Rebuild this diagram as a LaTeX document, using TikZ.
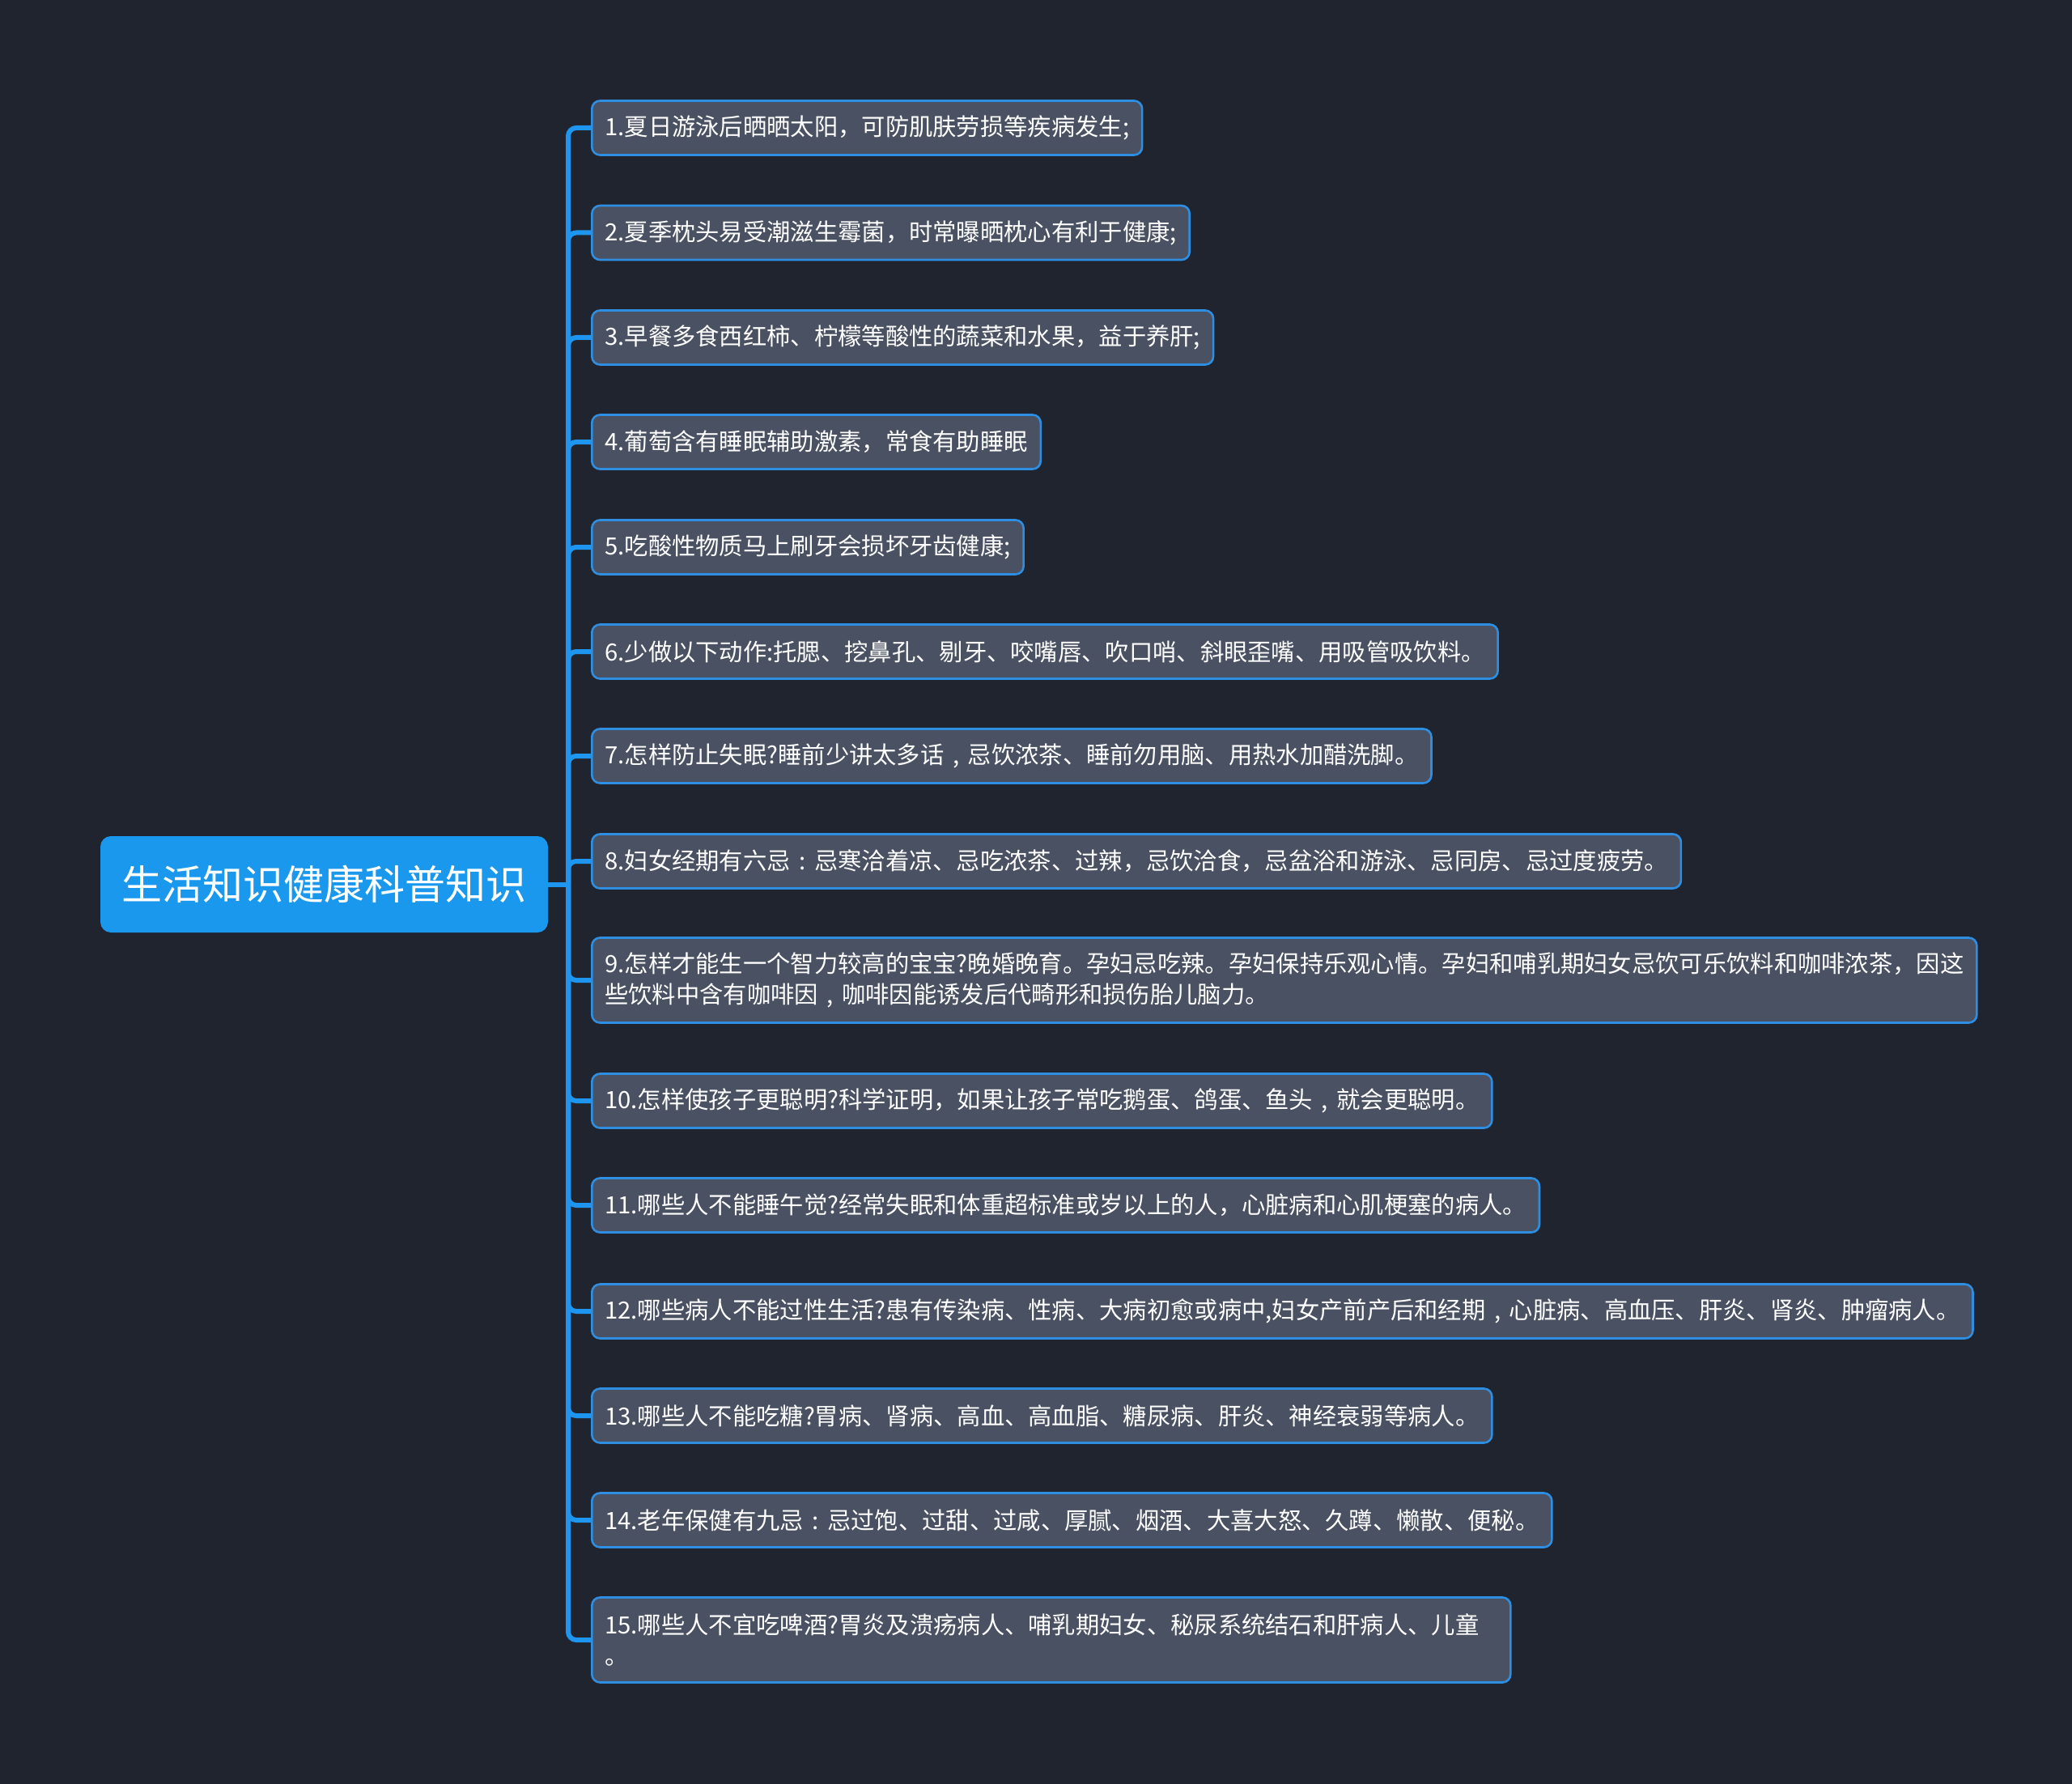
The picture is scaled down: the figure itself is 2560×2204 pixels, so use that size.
\documentclass[tikz,border=0pt]{standalone}
\usepackage{fontspec}
\usetikzlibrary{backgrounds}
\newfontfamily\cjk{Noto Sans CJK SC}
\newcommand\cmc{\makebox[1em][c]{,}}
\newcommand\cln{\makebox[1em][c]{:}}
\definecolor{bgc}{HTML}{20242E}
\definecolor{boxc}{HTML}{4A5162}
\definecolor{bordc}{HTML}{2E8FE2}
\definecolor{linec}{HTML}{1E96F0}
\definecolor{rootc}{HTML}{1A98EE}
\begin{document}
\begin{tikzpicture}[x=0.5pt,y=-0.5pt,
  rootbox/.style={fill=rootc, rounded corners=6.5pt, minimum width=276.5pt, minimum height=59.5pt, inner sep=0pt, text=white, font=\cjk\fontsize{25}{30}\selectfont},
  leaf/.style={draw=bordc, line width=1.3pt, fill=boxc, rounded corners=5pt, anchor=west, inner xsep=8pt, inner ysep=0pt, minimum height=33.5pt, text=white, font=\cjk\fontsize{14.65}{18.8}\selectfont, align=left},
  tallleaf/.style={leaf, minimum height=52.5pt},
  conn/.style={draw=linec, line width=3pt, rounded corners=5pt}]
\useasboundingbox (0,0) rectangle (2560,2204);
\node[rootbox] (root) at (400.5,1092.5) {生活知识健康科普知识};
\coordinate (J) at (702,1092.5);
\node[leaf] (b1) at (730,158) {1.夏日游泳后晒晒太阳，可防肌肤劳损等疾病发生;};
\node[leaf] (b2) at (730,287.5) {2.夏季枕头易受潮滋生霉菌，时常曝晒枕心有利于健康;};
\node[leaf] (b3) at (730,417) {3.早餐多食西红柿、柠檬等酸性的蔬菜和水果，益于养肝;};
\node[leaf] (b4) at (730,546) {4.葡萄含有睡眠辅助激素，常食有助睡眠};
\node[leaf] (b5) at (730,676) {5.吃酸性物质马上刷牙会损坏牙齿健康;};
\node[leaf] (b6) at (730,805) {6.少做以下动作:托腮、挖鼻孔、剔牙、咬嘴唇、吹口哨、斜眼歪嘴、用吸管吸饮料。};
\node[leaf] (b7) at (730,934) {7.怎样防止失眠?睡前少讲太多话\cmc 忌饮浓茶、睡前勿用脑、用热水加醋洗脚。};
\node[leaf] (b8) at (730,1064) {8.妇女经期有六忌\cln 忌寒洽着凉、忌吃浓茶、过辣，忌饮洽食，忌盆浴和游泳、忌同房、忌过度疲劳。};
\node[tallleaf] (b9) at (730,1211) {9.怎样才能生一个智力较高的宝宝?晚婚晚育。孕妇忌吃辣。孕妇保持乐观心情。孕妇和哺乳期妇女忌饮可乐饮料和咖啡浓茶，因这\\些饮料中含有咖啡因\cmc 咖啡因能诱发后代畸形和损伤胎儿脑力。};
\node[leaf] (b10) at (730,1360) {10.怎样使孩子更聪明?科学证明，如果让孩子常吃鹅蛋、鸽蛋、鱼头\cmc 就会更聪明。};
\node[leaf] (b11) at (730,1489) {11.哪些人不能睡午觉?经常失眠和体重超标准或岁以上的人，心脏病和心肌梗塞的病人。};
\node[leaf] (b12) at (730,1620) {12.哪些病人不能过性生活?患有传染病、性病、大病初愈或病中,妇女产前产后和经期\cmc 心脏病、高血压、肝炎、肾炎、肿瘤病人。};
\node[leaf] (b13) at (730,1749) {13.哪些人不能吃糖?胃病、肾病、高血、高血脂、糖尿病、肝炎、神经衰弱等病人。};
\node[leaf] (b14) at (730,1878) {14.老年保健有九忌\cln 忌过饱、过甜、过咸、厚腻、烟酒、大喜大怒、久蹲、懒散、便秘。};
\node[tallleaf, text width=551.5pt] (b15) at (730,2026) {15.哪些人不宜吃啤酒?胃炎及溃疡病人、哺乳期妇女、秘尿系统结石和肝病人、儿童\\。};
\begin{pgfonlayer}{background}
\fill[bgc] (0,0) rectangle (2560,2204);
\draw[conn] (root.east) -- (J);
\foreach \i in {1,...,15} {\draw[conn] (J) |- (b\i.west);}
\end{pgfonlayer}
\end{tikzpicture}
\end{document}
